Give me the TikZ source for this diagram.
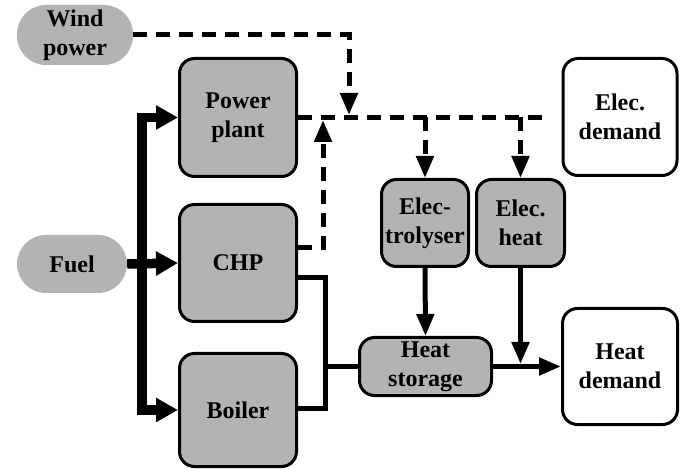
\documentclass[tikz,border=0pt]{standalone}
\usepackage{fontspec}
\newfontfamily\tnr{Liberation Serif}[BoldFont={Liberation Serif Bold}]
\usetikzlibrary{arrows.meta}
\definecolor{boxgray}{RGB}{179,179,179}
\tikzset{
  lbl/.style={font=\tnr\bfseries\fontsize{24}{29}\selectfont, align=center, inner sep=0pt},
  pill/.style={lbl, fill=boxgray, rounded corners=29pt},
  gbox/.style={lbl, draw=black, line width=3pt, fill=boxgray, rounded corners=15pt},
  wbox/.style={lbl, draw=black, line width=3pt, fill=white, rounded corners=15pt},
  fuelline/.style={line width=9.5pt, line join=miter},
  hline/.style={line width=5pt, line join=miter},
  dline/.style={line width=5pt, dash pattern=on 14pt off 9pt},
  bigtip/.tip={Triangle[length=22pt,width=23pt]},
  tip/.tip={Triangle[length=22pt,width=17pt]},
}
\begin{document}
\begin{tikzpicture}[x=1pt,y=-1pt]
\useasboundingbox (0,0) rectangle (683,470);
% nodes
\node[pill, minimum width=116pt, minimum height=60pt] (wind) at (75,35) {Wind\\power};
\node[pill, minimum width=110pt, minimum height=58pt] (fuel) at (72,264) {Fuel};
\node[gbox, minimum width=117pt, minimum height=118pt] (pp) at (238,117.5) {Power\\plant};
\node[gbox, minimum width=117pt, minimum height=117pt] (chp) at (238,263) {CHP};
\node[gbox, minimum width=117pt, minimum height=113pt] (boiler) at (238,410) {Boiler};
\node[gbox, minimum width=87pt, minimum height=87pt] (ely) at (425,223) {Elec-\\trolyser};
\node[gbox, minimum width=88pt, minimum height=87pt] (eh) at (520.5,223) {Elec.\\heat};
\node[wbox, minimum width=114pt, minimum height=117pt] (ed) at (620,117) {Elec.\\demand};
\node[gbox, minimum width=132pt, minimum height=58pt] (hs) at (425.5,366.5) {Heat\\storage};
\node[wbox, minimum width=115pt, minimum height=116pt] (hd) at (620,366.5) {Heat\\demand};
% coordinates
\coordinate (bus) at (142,264);
\coordinate (j1) at (349,117.5);
\coordinate (j2) at (323,117.5);
\coordinate (hc) at (325,366.5);
\coordinate (pend) at (549,117.5);
% fuel
\draw[fuelline, -bigtip] (fuel.east) -- (chp.west);
\draw[fuelline, bigtip-bigtip] (pp.west) -| (bus) |- (boiler.west);
% electricity (dashed)
\draw[dline] (pp.east) -- (pend);
\draw[dline, -tip, shorten >=2.5pt] (wind.east) -| (j1);
\draw[dline, -tip, shorten >=2.5pt] ([yshift=15pt]chp.east) -| (j2);
\draw[dline, -tip] (ely.north |- j1) -- (ely.north);
\draw[dline, -tip] (eh.north |- j1) -- (eh.north);
% heat
\draw[hline] ([yshift=-15pt]chp.east) -| (hc) |- ([yshift=2pt]boiler.east);
\draw[hline] (hc) -- (hs.west);
\draw[hline, -tip] (ely.south) -- (hs.north);
\draw[hline, -tip] (hs.east) -- (hd.west);
\draw[hline, -tip, shorten >=2.5pt] (eh.south) -- (eh.south |- hs.east);
\end{tikzpicture}
\end{document}
